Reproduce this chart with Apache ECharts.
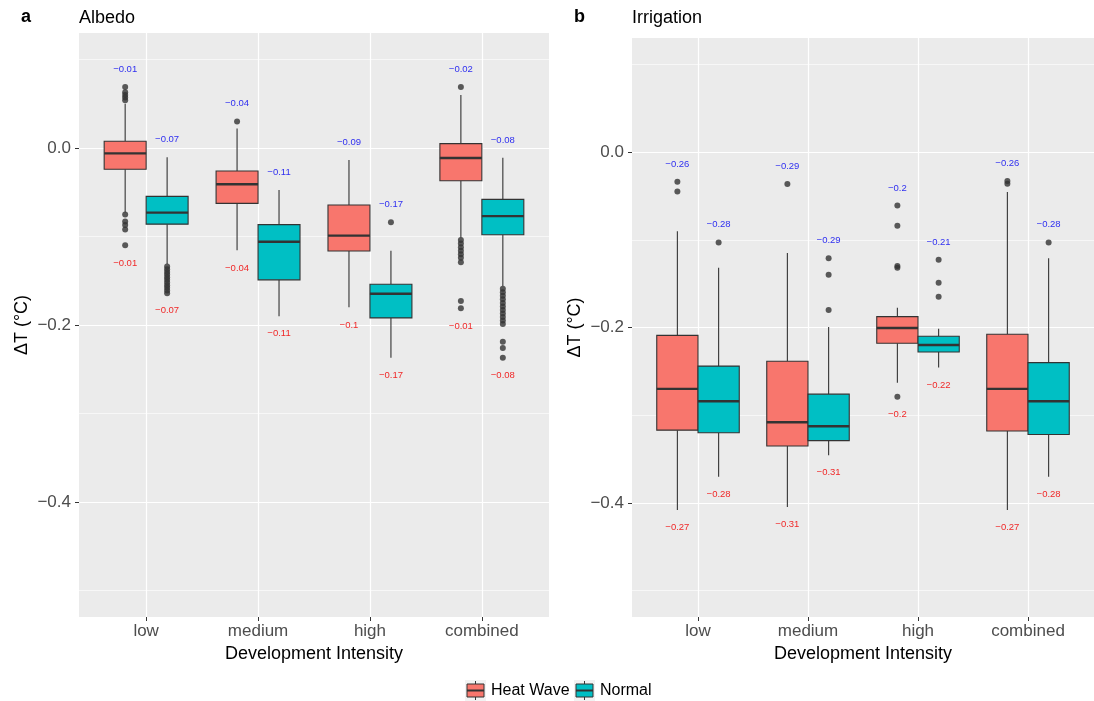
<!DOCTYPE html>
<html>
<head>
<meta charset="utf-8">
<script src="https://cdn.jsdelivr.net/npm/echarts@6/dist/echarts.min.js"></script>
<style>
html, body { margin: 0; padding: 0; background: #fff; }
#chart { width: 1094px; height: 701px; }
</style>
</head>
<body>
<div id="chart"></div>
<script>
var categories = ['low', 'medium', 'high', 'combined'];

// box stats: [lower whisker, q1, median, q3, upper whisker]
var albedoHeat = [
	[-0.073, -0.024, -0.006, 0.0076, 0.05],
	[-0.1156, -0.0625, -0.041, -0.026, 0.022],
	[-0.180, -0.1164, -0.099, -0.0644, -0.0136],
	[-0.101, -0.037, -0.0113, 0.005, 0.06]
];
var albedoNormal = [
	[-0.131, -0.086, -0.073, -0.0546, -0.0105],
	[-0.19, -0.149, -0.106, -0.0866, -0.0475],
	[-0.237, -0.192, -0.1646, -0.154, -0.116],
	[-0.156, -0.098, -0.077, -0.058, -0.011]
];
var albedoHeatOut = [
	[0.069, 0.063, 0.060, 0.057, 0.054, -0.075, -0.083, -0.087, -0.092, -0.110],
	[0.030],
	[],
	[0.069, -0.104, -0.108, -0.112, -0.116, -0.120, -0.124, -0.129, -0.173, -0.181]
];
var albedoNormalOut = [
	[-0.134, -0.137, -0.140, -0.143, -0.146, -0.149, -0.152, -0.155, -0.158, -0.161, -0.164],
	[],
	[-0.084],
	[-0.159, -0.163, -0.167, -0.171, -0.175, -0.179, -0.183, -0.187, -0.191, -0.195, -0.199, -0.219, -0.226, -0.237]
];
var albedoHeatTop = [-0.01, -0.04, -0.09, -0.02];
var albedoHeatBottom = [-0.01, -0.04, -0.1, -0.01];
var albedoNormalTop = [-0.07, -0.11, -0.17, -0.08];
var albedoNormalBottom = [-0.07, -0.11, -0.17, -0.08];

var irrigHeat = [
	[-0.408, -0.317, -0.270, -0.209, -0.0904],
	[-0.4045, -0.335, -0.308, -0.2385, -0.115],
	[-0.263, -0.218, -0.2005, -0.1876, -0.1774],
	[-0.408, -0.318, -0.270, -0.2077, -0.0456]
];
var irrigNormal = [
	[-0.370, -0.320, -0.284, -0.244, -0.132],
	[-0.3456, -0.329, -0.3126, -0.276, -0.1994],
	[-0.2457, -0.228, -0.220, -0.210, -0.2013],
	[-0.370, -0.322, -0.284, -0.240, -0.121]
];
var irrigHeatOut = [
	[-0.034, -0.045],
	[-0.0365],
	[-0.061, -0.084, -0.130, -0.132, -0.279],
	[-0.033, -0.036]
];
var irrigNormalOut = [
	[-0.103],
	[-0.121, -0.140, -0.180],
	[-0.1227, -0.149, -0.165],
	[-0.103]
];
var irrigHeatTop = [-0.26, -0.29, -0.2, -0.26];
var irrigHeatBottom = [-0.27, -0.31, -0.2, -0.27];
var irrigNormalTop = [-0.28, -0.29, -0.21, -0.28];
var irrigNormalBottom = [-0.28, -0.31, -0.22, -0.28];

var yTicks = [0, -0.2, -0.4];
var yMinor = [0.1, -0.1, -0.3, -0.5];
var xTicks = [1, 2, 3, 4];

var heatColor = '#F8766D';
var normalColor = '#00BFC4';
var ink = '#333333';
var font = 'Liberation Sans, Arial, sans-serif';

function fmt(v) {
	return String(v).replace('-', '\u2212');
}

// one item per category: [x, w0, q1, med, q3, w1, topLabel, bottomLabel, topY, bottomY]
function boxData(stats, outs, tops, bottoms, offset) {
	return stats.map(function (s, i) {
		var hi = Math.max.apply(null, [s[4]].concat(outs[i]));
		var lo = Math.min.apply(null, [s[0]].concat(outs[i]));
		return [i + 1 + offset, s[0], s[1], s[2], s[3], s[4], tops[i], bottoms[i], hi + 0.02, lo - 0.02];
	});
}

function outlierData(outs, offset) {
	var res = [];
	outs.forEach(function (list, i) {
		list.forEach(function (v) { res.push([i + 1 + offset, v]); });
	});
	return res;
}

function renderBox(fill) {
	return function (params, api) {
		var x = api.value(0);
		var half = api.size([0.375, 0])[0] / 2;
		var w0 = api.coord([x, api.value(1)]);
		var q1 = api.coord([x, api.value(2)]);
		var md = api.coord([x, api.value(3)]);
		var q3 = api.coord([x, api.value(4)]);
		var w1 = api.coord([x, api.value(5)]);
		var tp = api.coord([x, api.value(8)]);
		var bt = api.coord([x, api.value(9)]);
		var lineStyle = { stroke: ink, lineWidth: 1.1 };
		return {
			type: 'group',
			children: [
				{ type: 'line', shape: { x1: q3[0], y1: q3[1], x2: w1[0], y2: w1[1] }, style: lineStyle },
				{ type: 'line', shape: { x1: w0[0], y1: w0[1], x2: q1[0], y2: q1[1] }, style: lineStyle },
				{ type: 'rect', shape: { x: q3[0] - half, y: q3[1], width: half * 2, height: q1[1] - q3[1] },
					style: { fill: fill, stroke: ink, lineWidth: 1.1 } },
				{ type: 'line', shape: { x1: md[0] - half, y1: md[1], x2: md[0] + half, y2: md[1] },
					style: { stroke: ink, lineWidth: 2.4 } },
				{ type: 'text', x: tp[0], y: tp[1],
					style: { text: fmt(api.value(6)), fill: '#2f2ff0', font: '9.5px ' + font, align: 'center', verticalAlign: 'middle' } },
				{ type: 'text', x: bt[0], y: bt[1],
					style: { text: fmt(api.value(7)), fill: '#f02828', font: '9.5px ' + font, align: 'center', verticalAlign: 'middle' } }
			]
		};
	};
}

function xAxis(idx) {
	return {
		type: 'value', gridIndex: idx, min: 0.4, max: 4.6,
		name: 'Development Intensity', nameLocation: 'middle', nameGap: 27,
		nameTextStyle: { color: '#000', fontSize: 18, fontFamily: font },
		axisLine: { show: false, onZero: false },
		axisTick: { show: true, length: 4, customValues: xTicks, lineStyle: { color: ink, width: 1 } },
		axisLabel: {
			customValues: xTicks, margin: 6, color: '#4D4D4D', fontSize: 17, fontFamily: font,
			formatter: function (v) { return categories[Math.round(v) - 1]; }
		},
		splitLine: { show: true, lineStyle: { color: '#fff', width: 1.2 } }
	};
}

function yAxis(idx) {
	return {
		type: 'value', gridIndex: idx, min: -0.53, max: 0.13,
		name: '\u0394T (\u00B0C)', nameLocation: 'middle', nameGap: 48,
		nameTextStyle: { color: '#000', fontSize: 18, fontFamily: font },
		axisLine: { show: false, onZero: false },
		axisTick: { show: true, length: 4, customValues: yTicks, lineStyle: { color: ink, width: 1 } },
		axisLabel: {
			customValues: yTicks, margin: 8, color: '#4D4D4D', fontSize: 17, fontFamily: font,
			formatter: function (v) { return v === 0 ? '0.0' : fmt(v.toFixed(1)); }
		},
		splitLine: { show: true, lineStyle: { color: '#fff', width: 1.2 } }
	};
}

function panelSeries(idx, heat, normal, heatOut, normalOut, heatTop, heatBot, normTop, normBot) {
	return [
		{
			type: 'custom', xAxisIndex: idx, yAxisIndex: idx, z: 3,
			renderItem: renderBox(heatColor),
			encode: { x: 0, y: [1, 5] },
			data: boxData(heat, heatOut, heatTop, heatBot, -0.1875)
		},
		{
			type: 'custom', xAxisIndex: idx, yAxisIndex: idx, z: 3,
			renderItem: renderBox(normalColor),
			encode: { x: 0, y: [1, 5] },
			data: boxData(normal, normalOut, normTop, normBot, 0.1875)
		},
		{
			type: 'scatter', xAxisIndex: idx, yAxisIndex: idx, z: 4,
			symbol: 'circle', symbolSize: 6, itemStyle: { color: ink },
			data: outlierData(heatOut, -0.1875).concat(outlierData(normalOut, 0.1875)),
			markLine: {
				silent: true, z: 1, symbol: 'none', label: { show: false },
				lineStyle: { color: '#fff', width: 0.6, type: 'solid' },
				data: yMinor.map(function (v) { return { yAxis: v }; })
			}
		}
	];
}

// legend key: gray square with a little boxplot
function legendKey(x, fill, label) {
	return [
		{ type: 'rect', shape: { x: x, y: 680, width: 21, height: 21 }, style: { fill: '#F2F2F2' } },
		{ type: 'line', shape: { x1: x + 10.5, y1: 681, x2: x + 10.5, y2: 700 }, style: { stroke: ink, lineWidth: 1 } },
		{ type: 'rect', shape: { x: x + 2, y: 684, width: 17, height: 13 }, style: { fill: fill, stroke: ink, lineWidth: 1 } },
		{ type: 'line', shape: { x1: x + 2, y1: 690.5, x2: x + 19, y2: 690.5 }, style: { stroke: ink, lineWidth: 2 } },
		{ type: 'text', x: x + 26, y: 690.5,
			style: { text: label, fill: '#000', font: '16px ' + font, verticalAlign: 'middle' } }
	];
}

var titles = [
	{ type: 'text', left: 21, top: 8, style: { text: 'a', fill: '#000', font: 'bold 18px ' + font } },
	{ type: 'text', left: 79, top: 9, style: { text: 'Albedo', fill: '#000', font: '18px ' + font } },
	{ type: 'text', left: 574, top: 8, style: { text: 'b', fill: '#000', font: 'bold 18px ' + font } },
	{ type: 'text', left: 632, top: 9, style: { text: 'Irrigation', fill: '#000', font: '18px ' + font } }
];

var myChart = echarts.init(document.getElementById('chart'));

var option = {
	backgroundColor: '#fff',
	animation: false,
	grid: [
		{ left: 79, top: 33, width: 470, height: 584, show: true, backgroundColor: '#EBEBEB', borderWidth: 0 },
		{ left: 632, top: 38, width: 470, height: 579, show: true, backgroundColor: '#EBEBEB', borderWidth: 0 }
	],
	xAxis: [xAxis(0), xAxis(1)],
	yAxis: [yAxis(0), yAxis(1)],
	series: panelSeries(0, albedoHeat, albedoNormal, albedoHeatOut, albedoNormalOut,
			albedoHeatTop, albedoHeatBottom, albedoNormalTop, albedoNormalBottom)
		.concat(panelSeries(1, irrigHeat, irrigNormal, irrigHeatOut, irrigNormalOut,
			irrigHeatTop, irrigHeatBottom, irrigNormalTop, irrigNormalBottom)),
	graphic: titles
		.concat(legendKey(465, heatColor, 'Heat Wave'))
		.concat(legendKey(574, normalColor, 'Normal'))
};

myChart.setOption(option);
</script>
</body>
</html>
